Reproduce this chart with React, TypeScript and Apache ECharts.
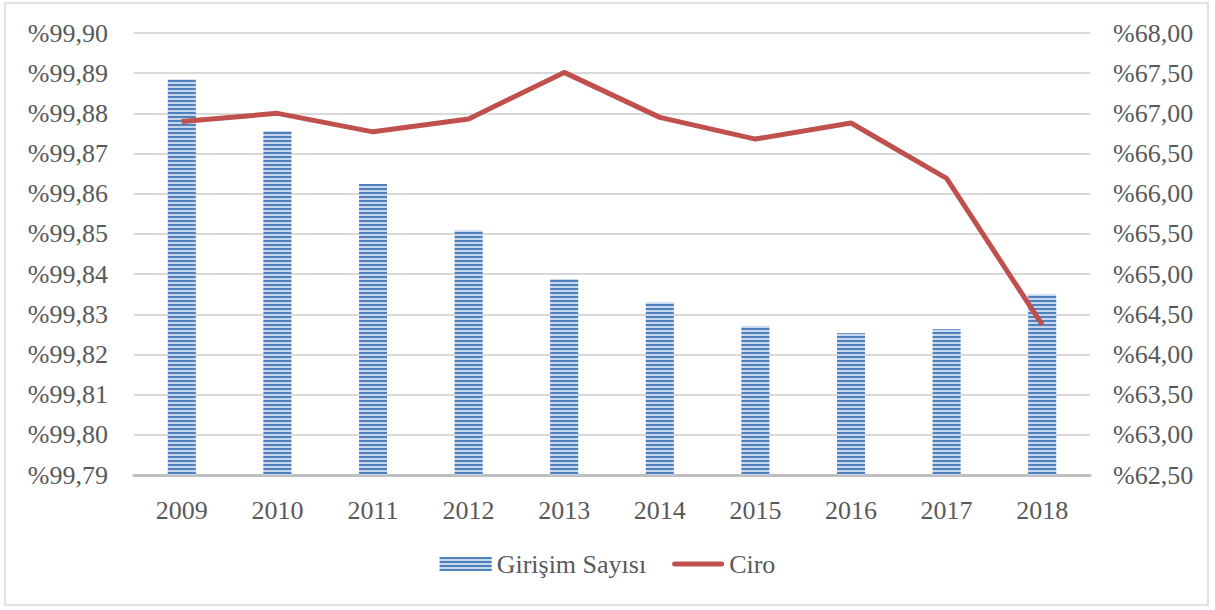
import React, { useEffect, useRef } from "react";
import * as echarts from "echarts";

const years = ["2009", "2010", "2011", "2012", "2013", "2014", "2015", "2016", "2017", "2018"];
const girisimSayisi = [99.8885, 99.8756, 99.8624, 99.8509, 99.8388, 99.833, 99.8271, 99.8253, 99.8263, 99.835];
const ciro = [66.9, 67.0, 66.77, 66.93, 67.51, 66.95, 66.68, 66.88, 66.19, 64.37];

const FONT = "Liberation Serif";
const TEXT = "#595959";

export default function App() {
  const ref = useRef<HTMLDivElement>(null);
  useEffect(() => {
    const chart = echarts.init(ref.current!, null, { renderer: "svg" });
    const fmt = (v: number) => "%" + v.toFixed(2).replace(".", ",");
    const legendText = { fontFamily: FONT, fontSize: 26, color: TEXT };
    chart.setOption({
      animation: false,
      backgroundColor: "#ffffff",
      textStyle: { fontFamily: FONT },
      graphic: [
        {
          type: "rect",
          shape: { x: 5, y: 3, width: 1203, height: 602 },
          style: { fill: "none", stroke: "#d9d9d9", lineWidth: 1.5 },
          silent: true,
        },
      ],
      grid: { left: 134, right: 125, top: 33, bottom: 135 },
      legend: {
        bottom: 28,
        left: "center",
        itemGap: 26,
        formatter: "{a|{name}}",
        textStyle: { ...legendText, rich: { a: legendText } },
        data: [
          { name: "Girişim Sayısı", icon: "rect" },
          {
            name: "Ciro",
            icon: "path://M2.5,0 L49.5,0 A2.5,2.5 0 0 1 49.5,5 L2.5,5 A2.5,2.5 0 0 1 2.5,0 Z",
          },
        ],
        itemWidth: 52,
        itemHeight: 14,
      },
      xAxis: {
        type: "category",
        data: years,
        axisLine: { lineStyle: { color: "#bfbfbf", width: 3 } },
        axisTick: { show: false },
        axisLabel: { color: TEXT, fontSize: 26, fontFamily: FONT, margin: 22 },
      },
      yAxis: [
        {
          type: "value",
          min: 99.79,
          max: 99.9,
          interval: 0.01,
          axisLine: { show: false },
          axisTick: { show: false },
          splitLine: { lineStyle: { color: "#d9d9d9", width: 2 } },
          axisLabel: { color: TEXT, fontSize: 26, fontFamily: FONT, margin: 26, formatter: fmt },
        },
        {
          type: "value",
          min: 62.5,
          max: 68,
          interval: 0.5,
          axisLine: { show: false },
          axisTick: { show: false },
          splitLine: { show: false },
          axisLabel: { color: TEXT, fontSize: 26, fontFamily: FONT, margin: 23, formatter: fmt },
        },
      ],
      series: [
        {
          name: "Girişim Sayısı",
          type: "bar",
          yAxisIndex: 0,
          data: girisimSayisi,
          barWidth: 28,
          itemStyle: {
            color: "#c6d6ec",
            decal: {
              symbol: "rect",
              symbolSize: 1,
              dashArrayX: [1, 0],
              dashArrayY: [1.6, 1.6],
              rotation: 0,
              color: "#4f81bd",
            },
          },
        },
        {
          name: "Ciro",
          type: "line",
          yAxisIndex: 1,
          data: ciro,
          symbol: "none",
          lineStyle: { color: "#c0504d", width: 5 },
          itemStyle: { color: "#c0504d" },
        },
      ],
    });
    return () => chart.dispose();
  }, []);
  return (
    <div
      ref={ref}
      style={{ position: "fixed", left: 0, top: 0, width: 1215, height: 610 }}
    />
  );
}
